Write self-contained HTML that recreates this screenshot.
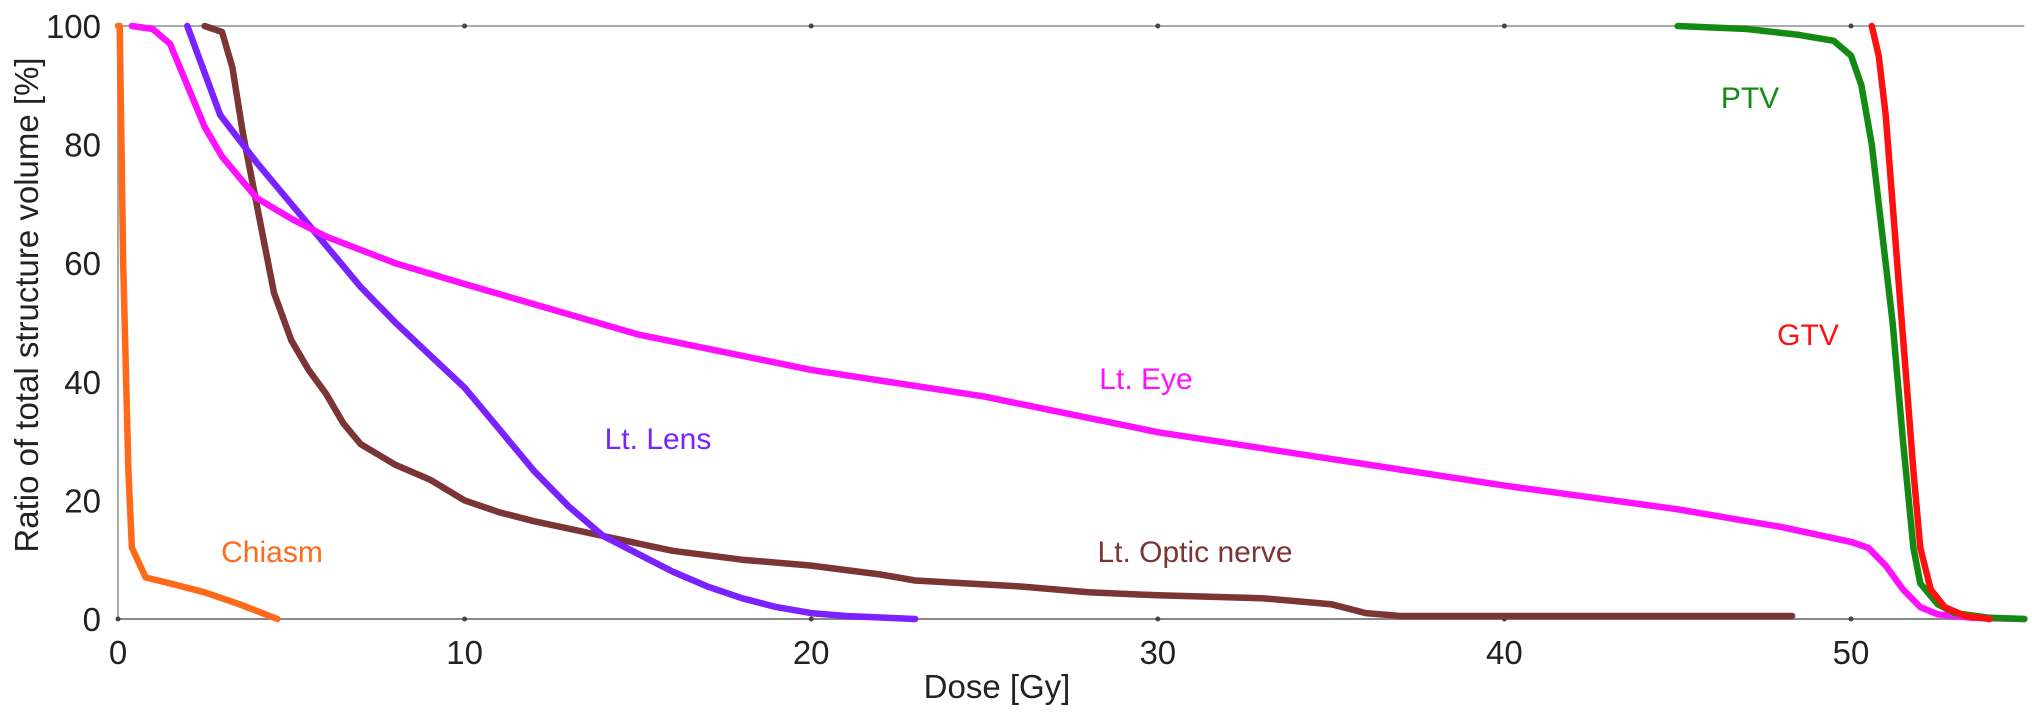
<!DOCTYPE html>
<html><head><meta charset="utf-8"><style>
body{margin:0;background:#fff;}
svg{display:block;font-family:"Liberation Sans",Arial,sans-serif;}
</style></head><body>
<svg id="chart" width="2032" height="715" viewBox="0 0 2032 715" xmlns="http://www.w3.org/2000/svg">
<g id="axes"></g>
<g id="series"></g>
<g id="labels"></g>
</svg>
<script>
const xTicks=[0,10,20,30,40,50];
const yTicks=[0,20,40,60,80,100];
const chiasmX=[0,0.05,0.15,0.3,0.4,0.8,1.5,2.5,3.5,4.6];
const chiasmY=[100,100,60,25,12,7,6,4.5,2.5,0];
const lensX=[2,2.95,4,5,6,7,8,9,10,11,12,13,14,15,16,17,18,19,20,21,23];
const lensY=[100,85,77,70,63,56,50,44.5,39,32,25,19,14,11,8,5.5,3.5,2,1,0.5,0];
const eyeX=[0.4,1,1.5,2,2.5,3,4,5,6,8,10,15,20,25,30,35,40,45,48,50,50.5,51,51.5,52,52.5,53.5,55];
const eyeY=[100,99.5,97,90,83,78,71,67.5,64.5,60,56.5,48,42,37.5,31.5,27,22.5,18.5,15.5,13,12,9,5,2,0.8,0.2,0];
const nerveX=[2.5,3,3.3,3.6,4,4.5,5,5.5,6,6.5,7,8,9,10,11,12,14,16,18,20,22,23,26,28,30,33,35,36,37,48.3];
const nerveY=[100,99,93,82,70,55,47,42,38,33,29.5,26,23.5,20,18,16.5,14,11.5,10,9,7.5,6.5,5.5,4.5,4,3.5,2.5,1,0.5,0.5];
const ptvX=[45,47,48.5,49.5,50,50.3,50.6,50.9,51.2,51.5,51.8,52,52.5,53,54,55];
const ptvY=[100,99.5,98.5,97.5,95,90,80,65,50,30,12,6,2.5,1,0.2,0];
const gtvX=[50.6,50.8,51,51.2,51.4,51.6,51.8,52,52.3,52.7,53.3,54];
const gtvY=[100,95,85,70,55,40,25,12,5,2,0.5,0];

const NS="http://www.w3.org/2000/svg";
const X0=118,XS=34.66,Y0=619,YS=5.93;
const sx=v=>X0+v*XS, sy=v=>Y0-v*YS;
function mk(tag,attrs,parent,text){const e=document.createElementNS(NS,tag);for(const k in attrs)e.setAttribute(k,attrs[k]);if(text!==undefined)e.textContent=text;parent.appendChild(e);return e;}
const axes=document.getElementById('axes'),series=document.getElementById('series'),labels=document.getElementById('labels');
let l=mk('line',{x1:sx(0),x2:sx(55),y1:sy(100),y2:sy(100),stroke:'#aaa','stroke-width':2},axes);


l=mk('line',{x1:sx(0),x2:sx(55),y1:sy(0),y2:sy(0),stroke:'#888','stroke-width':2},axes);


l=mk('line',{x1:sx(0),x2:sx(0),y1:sy(0),y2:sy(100),stroke:'#aaa','stroke-width':2},axes);


xTicks.forEach(t=>{
 let c=mk('circle',{cx:sx(t),cy:sy(0),r:2.5,fill:'#444'},axes);
 
 
 c=mk('circle',{cx:sx(t),cy:sy(100),r:2.5,fill:'#444'},axes);
 
 
 let tx=mk('text',{x:sx(t),y:664,'font-size':33,'text-anchor':'middle',fill:'#222'},axes,String(t));
 
 
});
yTicks.forEach(t=>{
 let tx=mk('text',{x:101,y:sy(t)+12,'font-size':33,'text-anchor':'end',fill:'#222'},axes,String(t));
 
 
});
let xt=mk('text',{x:997,y:698,'font-size':33,'text-anchor':'middle',fill:'#222'},axes,'Dose [Gy]');


let yt=mk('text',{x:0,y:0,'font-size':33,'text-anchor':'middle',fill:'#222',transform:'translate(38,305) rotate(-90)'},axes,'Ratio of total structure volume [%]');


function line(xs,ys,color,name){
 const d=xs.map((v,i)=>(i?'L':'M')+sx(v).toFixed(1)+','+sy(ys[i]).toFixed(1)).join(' ');
 const p=mk('path',{d:d,fill:'none',stroke:color,'stroke-width':6.5,'stroke-linejoin':'round','stroke-linecap':'round'},series);
 
 
}
line(nerveX,nerveY,'#7b3535','lt-optic-nerve-line');
line(lensX,lensY,'#7a22ff','lt-lens-line');
line(eyeX,eyeY,'#ff10ff','lt-eye-line');
line(chiasmX,chiasmY,'#ff6a1a','chiasm-line');
line(ptvX,ptvY,'#138a13','ptv-line');
line(gtvX,gtvY,'#ff1010','gtv-line');
function lab(x,y,t,c,name){const e=mk('text',{x:x,y:y,'font-size':30,'text-anchor':'middle',fill:c},labels,t);
 
 }
lab(1750,108,'PTV','#138a13','ptv-label');
lab(1808,345,'GTV','#ff1010','gtv-label');
lab(1146,389,'Lt. Eye','#ff10ff','lt-eye-label');
lab(658,449,'Lt. Lens','#7a22ff','lt-lens-label');
lab(272,562,'Chiasm','#ff6a1a','chiasm-label');
lab(1195,562,'Lt. Optic nerve','#7b3535','lt-optic-nerve-label');
</script>
</body></html>
